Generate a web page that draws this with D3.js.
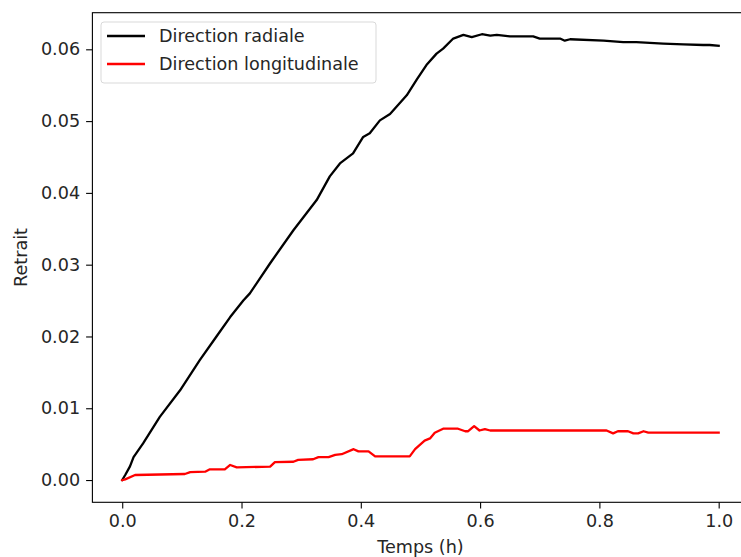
<!DOCTYPE html>
<html>
<head>
<meta charset="utf-8">
<script src="https://cdn.jsdelivr.net/npm/d3@7"></script>
<style>
  html, body { margin: 0; padding: 0; background: #fff; }
  svg { display: block; font-family: "DejaVu Sans", sans-serif; }
</style>
</head>
<body>
<svg id="chart" width="741" height="557"></svg>
<script>
// ---- data ----
const radialTime = [0, 0.005, 0.013, 0.019, 0.035, 0.063, 0.097, 0.130, 0.158, 0.181, 0.203, 0.214, 0.248, 0.287, 0.326, 0.348, 0.365, 0.387, 0.404, 0.415, 0.432, 0.449, 0.477, 0.494, 0.510, 0.527, 0.538, 0.555, 0.572, 0.586, 0.603, 0.617, 0.628, 0.650, 0.689, 0.700, 0.734, 0.742, 0.751, 0.807, 0.840, 0.862, 0.907, 0.941, 0.974, 0.985, 1.0];
const radialValues = [0, 0.0007, 0.0019, 0.0032, 0.0051, 0.0088, 0.0125, 0.0167, 0.0200, 0.0227, 0.0250, 0.0260, 0.0302, 0.0348, 0.0390, 0.0423, 0.0441, 0.0455, 0.0478, 0.0483, 0.0501, 0.0510, 0.0536, 0.0558, 0.0578, 0.0594, 0.0601, 0.0615, 0.0620, 0.0617, 0.0621, 0.0619, 0.0620, 0.0618, 0.0618, 0.0615, 0.0615, 0.0612, 0.0614, 0.0612, 0.0610, 0.0610, 0.0608, 0.0607, 0.0606, 0.0606, 0.0605];

const longTime = [0, 0.005, 0.0215, 0.105, 0.114, 0.139, 0.147, 0.172, 0.181, 0.192, 0.248, 0.256, 0.287, 0.295, 0.320, 0.329, 0.346, 0.357, 0.368, 0.388, 0.396, 0.413, 0.424, 0.482, 0.491, 0.507, 0.516, 0.524, 0.538, 0.563, 0.575, 0.580, 0.590, 0.599, 0.608, 0.617, 0.812, 0.823, 0.831, 0.848, 0.857, 0.865, 0.874, 0.882, 1.0];
const longValues = [0, 0.0001, 0.0007, 0.00084, 0.0011, 0.00116, 0.0015, 0.0015, 0.0021, 0.00177, 0.00186, 0.0025, 0.00255, 0.0028, 0.0029, 0.0032, 0.0032, 0.0035, 0.0036, 0.0043, 0.0040, 0.0040, 0.0033, 0.0033, 0.0043, 0.0055, 0.0058, 0.0066, 0.00715, 0.00715, 0.0068, 0.0068, 0.0075, 0.0069, 0.0071, 0.0069, 0.0069, 0.0065, 0.0068, 0.0068, 0.0065, 0.0065, 0.0068, 0.0066, 0.0066];

const seriesNames = ["Direction radiale", "Direction longitudinale"];
const seriesColors = ["#000000", "#ff0000"];
const xTicks = [0, 0.2, 0.4, 0.6, 0.8, 1.0];
const yTicks = [0, 0.01, 0.02, 0.03, 0.04, 0.05, 0.06];
const xLabel = "Temps (h)";
const yLabel = "Retrait";

// ---- layout ----
const mLeft = 92.4, mRight = 748.5, mTop = 12.7, mBottom = 502.3;
const fs = 17.6;
const svg = d3.select("#chart");

const x = d3.scaleLinear().domain([-0.05, 1.05]).range([mLeft, mRight]);
const y = d3.scaleLinear().domain([-0.0031, 0.0651]).range([mBottom, mTop]);

// lines
const series = [
  radialTime.map((t, i) => [t, radialValues[i]]),
  longTime.map((t, i) => [t, longValues[i]])
];
const line = d3.line().x(d => x(d[0])).y(d => y(d[1]));
series.forEach((s, i) => {
  svg.append("path")
    .datum(s)
    .attr("d", line)
    .attr("fill", "none")
    .attr("stroke", seriesColors[i])
    .attr("stroke-width", 2.3)
    .attr("stroke-linejoin", "round")
    .attr("stroke-linecap", "square");
});

// axes
const xAxis = d3.axisBottom(x).tickValues(xTicks).tickFormat(d3.format(".1f")).tickSize(6.3).tickPadding(6);
const yAxis = d3.axisLeft(y).tickValues(yTicks).tickFormat(d3.format(".2f")).tickSize(6.3).tickPadding(6);

const gx = svg.append("g").attr("transform", `translate(0,${mBottom})`).call(xAxis);
const gy = svg.append("g").attr("transform", `translate(${mLeft},0)`).call(yAxis);
[gx, gy].forEach(g => {
  g.select(".domain").remove();
  g.selectAll("line").attr("stroke", "#000").attr("stroke-width", 1.1);
  g.selectAll("text").attr("fill", "#262626").style("font-size", fs + "px").style("font-family", "DejaVu Sans");
});

// frame (spines)
svg.append("rect")
  .attr("x", mLeft).attr("y", mTop)
  .attr("width", mRight - mLeft).attr("height", mBottom - mTop)
  .attr("fill", "none").attr("stroke", "#000").attr("stroke-width", 1.1);

// axis labels
svg.append("text")
  .attr("x", (mLeft + mRight) / 2).attr("y", 553)
  .attr("text-anchor", "middle").attr("fill", "#262626")
  .style("font-size", fs + "px")
  .text(xLabel);
svg.append("text")
  .attr("transform", `translate(27,${(mTop + mBottom) / 2}) rotate(-90)`)
  .attr("text-anchor", "middle").attr("fill", "#262626")
  .style("font-size", fs + "px")
  .text(yLabel);

// legend
const lg = svg.append("g");
lg.append("rect")
  .attr("x", 101).attr("y", 22).attr("width", 275).attr("height", 61)
  .attr("rx", 3).attr("ry", 3)
  .attr("fill", "#fff").attr("fill-opacity", 0.8)
  .attr("stroke", "#d9d9d9").attr("stroke-width", 1);
seriesNames.forEach((name, i) => {
  const cy = 36 + i * 28;
  lg.append("line")
    .attr("x1", 107).attr("x2", 145).attr("y1", cy).attr("y2", cy)
    .attr("stroke", seriesColors[i]).attr("stroke-width", 2.3);
  lg.append("text")
    .attr("x", 159).attr("y", cy).attr("dy", "0.36em")
    .attr("fill", "#262626")
    .style("font-size", fs + "px")
    .text(name);
});
</script>
</body>
</html>
